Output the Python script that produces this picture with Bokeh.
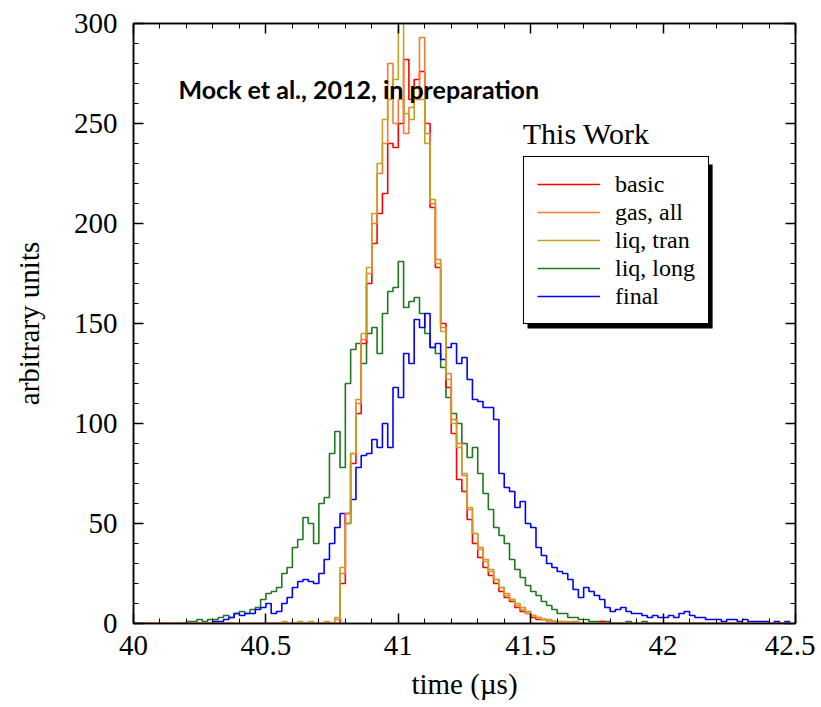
import numpy as np
from bokeh.plotting import figure
from bokeh.models import (Range1d, LinearAxis, SingleIntervalTicker, Legend, LegendItem,
                          Label, BoxAnnotation, CustomJSTickFormatter)
from bokeh.embed import file_html
from bokeh.resources import INLINE

# ---- data (histogram bins, 0.02 us wide, left edges from 40.00 to 42.48) ----
bin_start = 40.0
bin_width = 0.02
n_bins = 125

basic = [
    0, 0, 0, 0, 0, 0, 0, 0, 0, 0,
    0, 0, 0, 0, 0, 0, 0, 0, 0, 0,
    0, 0, 0, 0, 0, 0, 0, 0, 0, 0,
    0, 0, 0, 0, 0, 0, 0, 0, 0, 20,
    55, 80, 105, 140, 170, 190, 205, 215, 240, 238,
    250, 282, 262, 272, 276, 250, 208, 178, 150, 118,
    95, 72, 66, 52, 40, 33, 28, 24, 20, 16,
    13, 11, 8, 6, 5, 3, 2, 2, 1, 1,
    0, 0, 0, 0, 0, 0, 0, 0, 1, 0,
    0, 0, 0, 0, 0, 0, 0, 0, 0, 0,
    0, 0, 0, 0, 0, 0, 0, 0, 0, 0,
    0, 0, 0, 0, 0, 0, 0, 0, 0, 0,
    0, 0, 0, 0, 0,
]

gas_all = [
    0, 0, 0, 0, 0, 0, 0, 0, 0, 0,
    0, 0, 0, 0, 0, 0, 0, 0, 0, 0,
    0, 0, 0, 0, 0, 0, 0, 0, 0, 0,
    0, 0, 0, 0, 0, 0, 0, 0, 2, 25,
    55, 85, 110, 142, 175, 200, 225, 240, 280, 250,
    262, 245, 258, 262, 293, 245, 210, 182, 148, 125,
    102, 90, 74, 57, 45, 38, 32, 27, 22, 18,
    15, 12, 9, 8, 6, 4, 3, 2, 2, 1,
    1, 1, 0, 1, 0, 0, 0, 0, 0, 0,
    0, 0, 0, 0, 0, 0, 0, 0, 0, 0,
    0, 0, 0, 0, 0, 0, 0, 0, 0, 0,
    0, 0, 0, 0, 0, 0, 0, 0, 0, 0,
    0, 0, 0, 0, 0,
]

liq_tran = [
    0, 0, 0, 0, 0, 0, 0, 0, 0, 0,
    0, 0, 0, 0, 0, 0, 0, 0, 0, 0,
    0, 0, 0, 0, 0, 0, 0, 0, 1, 0,
    0, 1, 0, 1, 0, 0, 1, 0, 3, 28,
    50, 85, 112, 145, 178, 205, 230, 252, 262, 272,
    302, 255, 252, 268, 262, 240, 212, 180, 146, 122,
    100, 88, 75, 58, 45, 37, 31, 26, 22, 18,
    14, 12, 10, 7, 5, 4, 3, 2, 1, 1,
    1, 0, 1, 0, 0, 0, 0, 0, 0, 0,
    0, 0, 0, 0, 0, 0, 0, 0, 0, 0,
    0, 0, 0, 0, 0, 0, 0, 0, 0, 0,
    0, 0, 0, 0, 0, 0, 0, 0, 0, 0,
    0, 0, 0, 0, 0,
]

liq_long = [
    0, 0, 0, 0, 0, 0, 0, 0, 0, 0,
    1, 1, 2, 1, 2, 2, 3, 4, 3, 5,
    6, 5, 7, 8, 12, 15, 16, 18, 25, 28,
    38, 42, 53, 50, 40, 60, 63, 85, 96, 78,
    120, 137, 140, 130, 145, 148, 135, 155, 166, 168,
    181, 158, 161, 163, 155, 145, 138, 135, 128, 113,
    105, 100, 90, 83, 88, 75, 65, 57, 48, 44,
    40, 32, 27, 23, 19, 16, 14, 11, 9, 7,
    5, 5, 3, 3, 2, 2, 1, 1, 1, 1,
    0, 0, 0, 1, 0, 0, 1, 0, 0, 0,
    0, 0, 0, 0, 0, 0, 0, 0, 0, 0,
    0, 0, 0, 0, 0, 0, 0, 0, 0, 0,
    0, 0, 0, 0, 0,
]

final = [
    0, 0, 0, 0, 0, 0, 0, 0, 0, 0,
    0, 0, 0, 0, 0, 1, 1, 2, 3, 5,
    4, 5, 5, 7, 8, 10, 5, 6, 10, 13,
    18, 21, 22, 21, 20, 25, 32, 40, 48, 55,
    50, 62, 78, 84, 85, 92, 88, 100, 88, 118,
    113, 135, 130, 152, 148, 155, 138, 140, 132, 138,
    140, 130, 133, 122, 112, 111, 108, 108, 102, 75,
    68, 66, 58, 61, 50, 48, 38, 34, 30, 28,
    26, 25, 22, 17, 13, 18, 16, 14, 12, 8,
    6, 7, 8, 6, 5, 5, 4, 3, 4, 3,
    3, 4, 3, 5, 6, 4, 3, 3, 2, 2,
    2, 1, 2, 2, 1, 2, 1, 1, 1, 1,
    0, 1, 0, 1, 1,
]

series_names = ["basic", "gas, all", "liq, tran", "liq, long", "final"]
series_colors = ["#ff0000", "#f97a32", "#c8a01e", "#1e781e", "#0000ff"]

x_ticks = [40, 40.5, 41, 41.5, 42, 42.5]
x_tick_labels = ["40", "40.5", "41", "41.5", "42", "42.5"]

t_left = np.round(bin_start + bin_width * np.arange(n_bins), 2)

SERIF = "Liberation Serif"

p = figure(width=815, height=707, output_backend="svg", toolbar_location=None,
           x_range=Range1d(40, 42.5), y_range=Range1d(0, 300),
           min_border_left=133, min_border_right=20, min_border_top=23, min_border_bottom=84,
           background_fill_color="white", border_fill_color="white")
p.grid.visible = False
p.outline_line_color = "black"
p.outline_line_width = 1.5

bottom_ax = p.xaxis[0]
left_ax = p.yaxis[0]
bottom_ax.ticker = SingleIntervalTicker(interval=0.5, num_minor_ticks=5)
left_ax.ticker = SingleIntervalTicker(interval=50, num_minor_ticks=5)
bottom_ax.major_label_overrides = {k: v for k, v in zip(x_ticks, x_tick_labels)}
bottom_ax.axis_label = "time (µs)"
left_ax.axis_label = "arbitrary units"

top_ax = LinearAxis(ticker=SingleIntervalTicker(interval=0.5, num_minor_ticks=5),
                    formatter=CustomJSTickFormatter(code="return ''"))
right_ax = LinearAxis(ticker=SingleIntervalTicker(interval=50, num_minor_ticks=5),
                      formatter=CustomJSTickFormatter(code="return ''"))
p.add_layout(top_ax, "above")
p.add_layout(right_ax, "right")

for ax in [bottom_ax, left_ax, top_ax, right_ax]:
    ax.major_tick_in = 10
    ax.major_tick_out = 0
    ax.minor_tick_in = 5
    ax.minor_tick_out = 0
    ax.axis_line_color = "black"
    ax.axis_line_width = 1.5
    ax.major_tick_line_color = "black"
    ax.major_tick_line_width = 1.5
    ax.minor_tick_line_color = "black"
    ax.minor_tick_line_width = 1
    ax.major_label_text_font = SERIF
    ax.major_label_text_color = "black"
    ax.major_label_text_font_size = "29px"
    ax.axis_label_text_font = SERIF
    ax.axis_label_text_font_style = "normal"
    ax.axis_label_text_color = "black"
    ax.axis_label_text_font_size = "29px"

for ax in [top_ax, right_ax]:
    ax.major_label_standoff = 0

bottom_ax.major_label_standoff = 12
bottom_ax.axis_label_standoff = 10
left_ax.major_label_standoff = 16
left_ax.axis_label_standoff = 26

renderers = {}
draw_order = [3, 4, 0, 1, 2]
data = [basic, gas_all, liq_tran, liq_long, final]
for i in draw_order:
    renderers[i] = p.step(t_left, data[i], mode="after", line_color=series_colors[i], line_width=1.6)

# Legend shadow (placed behind the legend box)
shadow = BoxAnnotation(left=41.488, right=42.187, top=229.5, bottom=147.5,
                       fill_color="black", fill_alpha=1, line_alpha=0)
p.add_layout(shadow)

legend = Legend(items=[LegendItem(label=series_names[i], renderers=[renderers[i]]) for i in range(5)],
                location=(390, 299), orientation="vertical",
                border_line_color="black", border_line_width=1.5, border_line_alpha=1,
                background_fill_color="white", background_fill_alpha=1,
                padding=13, margin=0, spacing=0,
                glyph_width=63, glyph_height=28, label_height=28, label_width=72,
                label_standoff=15, label_text_font=SERIF, label_text_font_size="24px",
                label_text_color="black")
p.add_layout(legend)

divider = BoxAnnotation(left=41.784, right=41.788, top=231.5, bottom=149.5,
                        fill_color="black", fill_alpha=1, line_alpha=0)
p.add_layout(divider)

p.add_layout(Label(x=41.47, y=245, text="This Work", text_font=SERIF, text_font_size="30px",
                   text_baseline="middle", text_color="black"))
p.add_layout(Label(x=40.17, y=267.5, text="Mock et al., 2012, in preparation", text_font="Lato",
                   text_font_style="bold", text_font_size="25px", text_baseline="middle",
                   text_color="black"))

open("out.html", "w").write(file_html(p, INLINE))
